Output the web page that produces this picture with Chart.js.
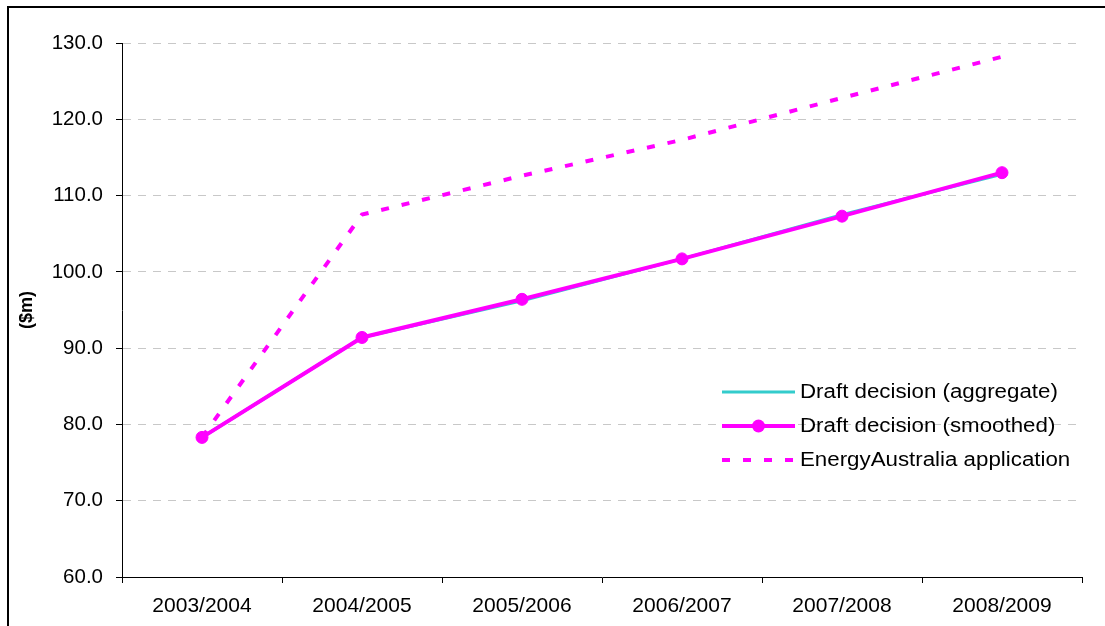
<!DOCTYPE html>
<html>
<head>
<meta charset="utf-8">
<script src="https://cdn.jsdelivr.net/npm/chart.js@4.4.0/dist/chart.umd.min.js"></script>
<style>
  html, body { margin: 0; padding: 0; background: #fff; }
  #wrap { position: relative; width: 1105px; height: 626px; overflow: hidden; }
  #frame { position: absolute; left: 7px; top: 6px; width: 1300px; height: 800px;
           border-left: 2px solid #000; border-top: 2px solid #000; }
  #c { position: absolute; left: 0; top: 0; }
</style>
</head>
<body>
<div id="wrap">
  <div id="frame"></div>
  <canvas id="c" width="1105" height="626"></canvas>
</div>
<script>
// Financial years on the horizontal axis
const categories = ['2003/2004', '2004/2005', '2005/2006', '2006/2007', '2007/2008', '2008/2009'];

// Series values ($m)
const aggregateValues   = [78.3, 91.4, 96.2, 101.7, 107.5, 112.8];
const smoothedValues    = [78.3, 91.4, 96.4, 101.7, 107.3, 113.0];
const applicationValues = [78.3, 107.5, 112.6, 117.3, 122.8, 128.2];

// Series names
const seriesNames = ['Draft decision (aggregate)', 'Draft decision (smoothed)', 'EnergyAustralia application'];

// Value axis
const yMin = 60, yMax = 130, yStep = 10;
const yTitle = '($m)';

const FONT = '"Liberation Sans", Arial, sans-serif';
const CYAN = '#33cccc';
const MAGENTA = '#ff00ff';

// Legend drawn inside the plot area, lower right
const insideLegend = {
  id: 'insideLegend',
  afterDraw(chart) {
    const ctx = chart.ctx;
    const order = [0, 1, 2];
    const x0 = 722, x1 = 795, textX = 800;
    const rows = [392, 426, 460];
    ctx.save();
    order.forEach((di, i) => {
      const ds = chart.data.datasets[di];
      const y = rows[i];
      ctx.beginPath();
      ctx.setLineDash(ds.borderDash || []);
      ctx.lineWidth = ds.borderWidth;
      ctx.strokeStyle = ds.borderColor;
      ctx.lineCap = 'butt';
      ctx.moveTo(x0, y);
      ctx.lineTo(x1, y);
      ctx.stroke();
      ctx.setLineDash([]);
      if (ds.pointRadius > 0) {
        ctx.beginPath();
        ctx.fillStyle = ds.pointBackgroundColor;
        ctx.arc((x0 + x1) / 2, y, ds.pointRadius + 0.5, 0, Math.PI * 2);
        ctx.fill();
      }
      ctx.save();
      ctx.translate(textX, y);
      ctx.scale(1.115, 1);
      ctx.fillStyle = '#000';
      ctx.font = '20px ' + FONT;
      ctx.textBaseline = 'middle';
      ctx.textAlign = 'left';
      ctx.fillText(ds.label, 0, 0);
      ctx.restore();
    });
    ctx.restore();
  }
};

new Chart(document.getElementById('c'), {
  type: 'line',
  data: {
    labels: categories,
    datasets: [
      {
        label: seriesNames[0],
        data: aggregateValues,
        borderColor: CYAN,
        backgroundColor: CYAN,
        borderWidth: 3,
        pointRadius: 0,
        tension: 0,
        order: 1
      },
      {
        label: seriesNames[1],
        data: smoothedValues,
        borderColor: MAGENTA,
        backgroundColor: MAGENTA,
        pointBackgroundColor: MAGENTA,
        pointBorderColor: MAGENTA,
        pointBorderWidth: 1,
        borderWidth: 4,
        pointRadius: 6,
        tension: 0,
        order: 0
      },
      {
        label: seriesNames[2],
        data: applicationValues,
        borderColor: MAGENTA,
        backgroundColor: MAGENTA,
        borderWidth: 4,
        borderDash: [8, 13],
        borderCapStyle: 'butt',
        pointRadius: 0,
        tension: 0,
        order: 2
      }
    ]
  },
  options: {
    responsive: false,
    animation: false,
    devicePixelRatio: 1,
    layout: { padding: { top: 43, right: 23, left: 0, bottom: 0 } },
    plugins: {
      legend: { display: false },
      tooltip: { enabled: false }
    },
    scales: {
      x: {
        type: 'category',
        offset: true,
        afterFit(scale) { scale.height = 49; },
        grid: {
          display: true,
          offset: true,
          drawOnChartArea: false,
          drawTicks: true,
          tickLength: 6,
          tickColor: '#000',
          tickWidth: 1
        },
        border: { display: true, color: '#000', width: 1 },
        ticks: {
          color: '#000',
          font: { family: FONT, size: 21 },
          padding: 11,
          maxRotation: 0,
          autoSkip: false
        }
      },
      y: {
        min: yMin,
        max: yMax,
        afterFit(scale) { scale.width = 122; },
        grid: {
          color: (c) => (c.tick && c.tick.value === yMin) ? 'rgba(0,0,0,0)' : '#c8c8c8',
          lineWidth: 1,
          drawTicks: true,
          tickLength: 6,
          tickColor: '#000',
          tickWidth: 1,
          tickBorderDash: []
        },
        border: { display: true, color: '#000', width: 1, dash: [8, 7] },
        ticks: {
          stepSize: yStep,
          color: '#000',
          font: { family: FONT, size: 20.5 },
          padding: 13,
          callback: (v) => Number(v).toFixed(1)
        },
        title: {
          display: true,
          text: yTitle,
          color: '#000',
          font: { family: FONT, size: 18, weight: 'bold' },
          padding: { top: 16, bottom: 0 }
        }
      }
    }
  },
  plugins: [insideLegend]
});
</script>
</body>
</html>
